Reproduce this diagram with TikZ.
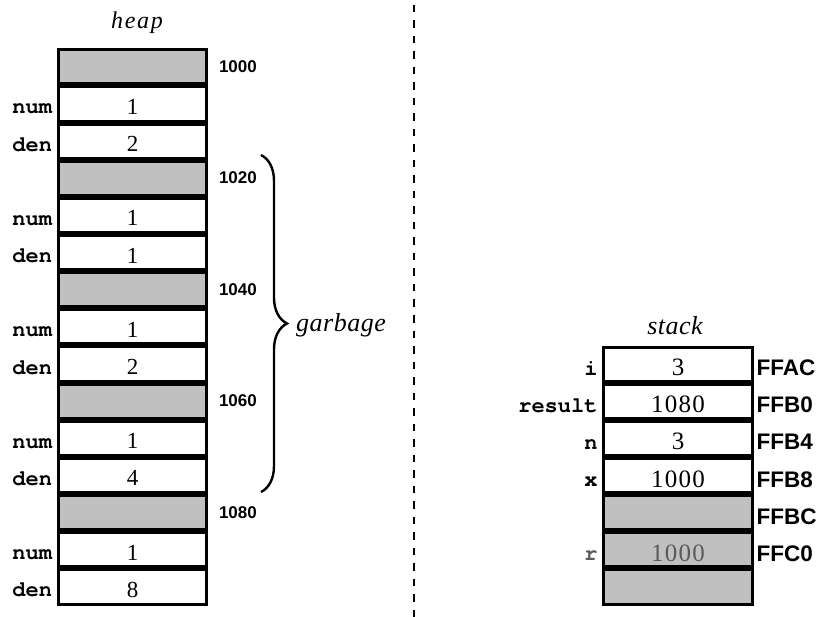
\documentclass[tikz,border=0pt]{standalone}
\usepackage{fontspec}
\setmainfont{Liberation Serif}
\newfontfamily\monofont{TeX Gyre Cursor}
\newfontfamily\sansfont{Liberation Sans}
\usetikzlibrary{decorations.pathreplacing}
\definecolor{cellgray}{HTML}{C0C0C0}
\definecolor{ghost}{HTML}{5A5A5A}
\begin{document}
\begin{tikzpicture}[x=1pt,y=-1pt,
  cell/.style={draw=black, line width=3pt, minimum width=148.6pt, minimum height=34.15pt, inner sep=0pt, outer sep=0pt},
  shaded/.style={fill=cellgray},
  val/.style={font=\fontsize{23}{23}\selectfont, inner sep=0pt, anchor=base},
  sval/.style={font=\fontsize{25}{25}\selectfont\addfontfeature{LetterSpace=5}, inner sep=0pt, anchor=base},
  var/.style={font=\monofont\bfseries\fontsize{22}{22}\selectfont, inner sep=0pt, anchor=base east},
  haddr/.style={font=\sansfont\bfseries\fontsize{17}{17}\selectfont, inner sep=0pt, anchor=base west},
  saddr/.style={font=\sansfont\bfseries\fontsize{22.5}{22.5}\selectfont, inner sep=0pt, anchor=base west},
  title/.style={font=\itshape\fontsize{24}{24}\selectfont\addfontfeature{LetterSpace=7}, inner sep=0pt, anchor=base},
  stitle/.style={font=\itshape\fontsize{26}{26}\selectfont\addfontfeature{LetterSpace=2}, inner sep=0pt},
  bracestyle/.style={decorate, decoration={brace, amplitude=26pt}, line width=2.4pt},
  divider/.style={line width=2.5pt, dash pattern=on 7.5pt off 8pt}
]
\useasboundingbox (0,0) rectangle (821,617);

% heap cells
\foreach \i in {0,...,14} {
  \pgfmathsetmacro\yc{48.25+37.15*(\i+0.5)}
  \node[cell] (h\i) at (132.5,\yc) {};
}
\foreach \i in {0,3,6,9,12} {
  \pgfmathsetmacro\yc{48.25+37.15*(\i+0.5)}
  \node[cell, shaded] (hs\i) at (132.5,\yc) {};
}
% heap values and variable names
\foreach \i/\v/\n in {1/1/num,2/2/den,4/1/num,5/1/den,7/1/num,8/2/den,10/1/num,11/4/den,13/1/num,14/8/den} {
  \node[val, yshift=-10.5pt] (hv\i) at (h\i.center) {\v};
  \node[var, xshift=-6pt, yshift=-10pt] (hn\i) at (h\i.west) {\n};
}
% heap addresses
\foreach \i/\a in {0/1000,3/1020,6/1040,9/1060,12/1080} {
  \node[haddr, xshift=12pt, yshift=-5.5pt] (ha\i) at (h\i.east) {\a};
}
\node[title] (heaplbl) at (137,28.3) {heap};

% stack cells
\foreach \i in {0,...,6} {
  \pgfmathsetmacro\yc{345.5+37.15*(\i+0.5)}
  \node[cell] (s\i) at (678,\yc) {};
}
\foreach \i in {4,5,6} {
  \pgfmathsetmacro\yc{345.5+37.15*(\i+0.5)}
  \node[cell, shaded] (ss\i) at (678,\yc) {};
}
\foreach \i/\v/\n in {0/3/i,1/1080/result,2/3/n,3/1000/x} {
  \node[sval, yshift=-11.5pt] (sv\i) at (s\i.center) {\v};
  \node[var, xshift=-6pt, yshift=-11pt] (sn\i) at (s\i.west) {\n};
}
\node[sval, yshift=-11.5pt, text=ghost] (sv5) at (s5.center) {1000};
\node[var, xshift=-6pt, yshift=-11pt, text=ghost] (sn5) at (s5.west) {r};
\foreach \i/\a in {0/FFAC,1/FFB0,2/FFB4,3/FFB8,4/FFBC,5/FFC0} {
  \node[saddr, xshift=4pt, yshift=-11.5pt] (sa\i) at (s\i.east) {\a};
}
\node[stitle, anchor=base] (stacklbl) at (675,334.3) {stack};

% garbage brace
\coordinate (bt) at (261,155);
\coordinate (bb) at (261,492);
\draw[bracestyle] (bt) -- (bb);
\node[stitle, anchor=base west] (garb) at (296,331.7) {garbage};

% divider
\coordinate (dt) at (414,5);
\coordinate (db) at (414,617);
\draw[divider] (dt) -- (db);
\end{tikzpicture}
\end{document}
